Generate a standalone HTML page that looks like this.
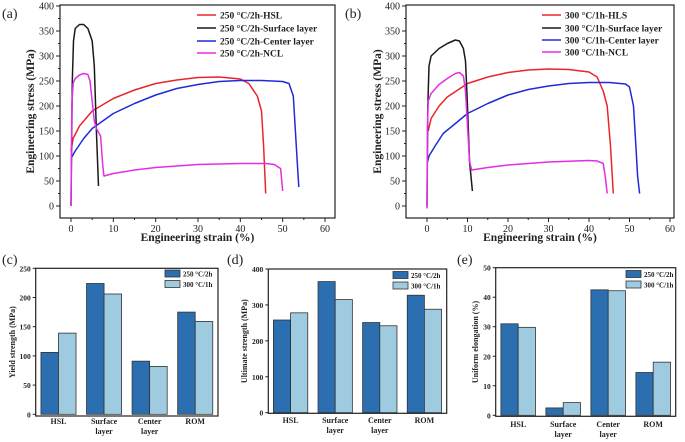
<!DOCTYPE html>
<html><head><meta charset="utf-8"><style>
html,body{margin:0;padding:0;background:#fff;overflow:hidden;}
svg{display:block;font-family:"Liberation Serif",serif;}
</style></head><body>
<svg id="fig" width="685" height="442" viewBox="0 0 685 442" xmlns="http://www.w3.org/2000/svg"></svg>
<script>
// ---- data ----
const curveNamesA = ["250 °C/2h-HSL","250 °C/2h-Surface layer","250 °C/2h-Center layer","250 °C/2h-NCL"];
const curveNamesB = ["300 °C/1h-HLS","300 °C/1h-Surface layer","300 °C/1h-Center layer","300 °C/1h-NCL"];
const curveColors = ["#e8262a","#1a1a1a","#1f2bd6","#e42ee4"];
const a_hsl = [[0,110],[0.5,135],[2,160],[5,190],[10,215],[15,232],[20,245],[25,252],[30,257],[35,258],[40,254],[42,245],[44,220],[45,190],[45.5,120],[46,25]];
const a_surf = [[0,0],[0.3,250],[0.6,330],[1,355],[2,363],[3,363],[4,355],[5,330],[5.5,280],[6,150],[6.5,40]];
const a_center = [[0,95],[1,110],[3,135],[5,155],[10,185],[15,205],[20,222],[25,235],[30,243],[35,249],[40,251],[45,251],[50,249],[51.5,245],[52.5,220],[53,150],[53.5,80],[53.8,38]];
const a_ncl = [[0,0],[0.2,200],[0.5,245],[1,255],[2,262],[3,265],[4,263],[4.5,250],[5,210],[5.5,170],[6,155],[7,140],[7.5,80],[7.8,60],[10,65],[15,72],[20,77],[30,83],[40,85],[46,85],[48,83],[49.5,75],[50,30]];
const b_hls = [[0.3,150],[1,175],[3,200],[5,218],[10,245],[15,258],[20,267],[25,272],[30,274],[35,273],[40,268],[42,258],[43.5,230],[44.5,200],[45.3,120],[46,25]];
const b_surf = [[0,0],[0.2,200],[0.5,280],[1,300],[3,315],[5,325],[7,332],[8,330],[9,315],[9.5,290],[10,200],[10.5,90],[11.2,30]];
const b_center = [[0,85],[0.5,100],[2,120],[4,145],[7,165],[10,185],[15,205],[20,222],[25,233],[30,240],[35,245],[40,247],[45,247],[49,244],[50,238],[51,200],[51.5,130],[52,60],[52.5,25]];
const b_ncl = [[0,-5],[0.1,150],[0.3,210],[1,225],[3,243],[5,255],[7,265],[8,267],[9,260],[9.5,230],[10,160],[10.5,90],[11,72],[15,77],[20,82],[30,88],[40,91],[42,90],[43.5,85],[44,60],[44.5,25]];
const strainTicks = [0,10,20,30,40,50,60];
const stressTicks = [0,50,100,150,200,250,300,350,400];
const categories = [["HSL"],["Surface","layer"],["Center","layer"],["ROM"]];
const barSeries = ["250 °C/2h","300 °C/1h"];
const yield250 = [106,224,91,175];
const yield300 = [139,206,82,159];
const uts250 = [258,365,251,327];
const uts300 = [278,315,242,288];
const elong250 = [31,2.5,42.5,14.5];
const elong300 = [29.8,4.3,42.2,18];
const yieldTicks = [0,50,100,150,200,250];
const utsTicks = [0,100,200,300,400];
const elongTicks = [0,10,20,30,40,50];

const NS="http://www.w3.org/2000/svg";
const svg=document.getElementById('fig');
function mk(tag,attrs,parent){const e=document.createElementNS(NS,tag);for(const k in attrs)e.setAttribute(k,attrs[k]);(parent||svg).appendChild(e);return e;}
function txt(s,x,y,size,anchor,parent,extra){const t=mk('text',Object.assign({x:x,y:y,'font-size':size,'font-weight':'bold','text-anchor':anchor||'middle',fill:'#222'},extra||{}),parent);t.textContent=s;return t;}

function linePanel(cfg){
  const g=mk('g',{});
  
  
  const sx=v=>cfg.x0+(v-0)*(cfg.x60-cfg.x0)/60;
  const sy=v=>cfg.y0+(v)*(cfg.y400-cfg.y0)/400;
  const frame=mk('rect',{x:cfg.L,y:cfg.T,width:cfg.R-cfg.L,height:cfg.B-cfg.T,fill:'none',stroke:'#222','stroke-width':1.2},g);
  
  
  strainTicks.forEach(v=>{const x=sx(v);mk('line',{x1:x,x2:x,y1:cfg.B,y2:cfg.B+4,stroke:'#222'},g);
    const t=txt(String(v),x,cfg.B+14,10,'middle',g,{'font-weight':'normal'});
    if(v<60){const xm=sx(v+5);mk('line',{x1:xm,x2:xm,y1:cfg.B,y2:cfg.B+2,stroke:'#222'},g);}});
  stressTicks.forEach(v=>{const y=sy(v);mk('line',{x1:cfg.L,x2:cfg.L-4,y1:y,y2:y,stroke:'#222'},g);
    const t=txt(String(v),cfg.L-6,y+3.5,10,'end',g,{'font-weight':'normal'});
    if(v<400){const ym=sy(v+25);mk('line',{x1:cfg.L,x2:cfg.L-2,y1:ym,y2:ym,stroke:'#222'},g);}});
  const xt=txt('Engineering strain (%)',(cfg.L+cfg.R)/2,241,11.5,'middle',g);
  
  const yc=(cfg.T+cfg.B)/2;
  const yt=txt('Engineering stress (MPa)',cfg.ytx,yc,11.5,'middle',g,{transform:'rotate(-90 '+cfg.ytx+' '+yc+')'});
  
  const pl=txt(cfg.label,cfg.lx,18,14,'start',g,{'font-weight':'normal'});
  
  cfg.series.forEach((s,i)=>{
    const p=mk('polyline',{points:s.map(d=>sx(d[0]).toFixed(1)+','+sy(d[1]).toFixed(1)).join(' '),fill:'none',stroke:curveColors[i],'stroke-width':1.5,'stroke-linejoin':'round'},g);
    
    
    const ly=cfg.legY[i];
    const ll=mk('line',{x1:cfg.legX,x2:cfg.legX+19,y1:ly,y2:ly,stroke:curveColors[i],'stroke-width':1.5},g);
    
    const lt=txt(cfg.names[i],cfg.legX+23,ly+3.5,9.5,'start',g);
    
  });
}
linePanel({name:'chart-a',label:'(a)',lx:2,L:60,R:335,T:5,B:218,x0:71,x60:325,y0:206,y400:6,ytx:34,legX:197,legY:[15,28,41,53],series:[a_hsl,a_surf,a_center,a_ncl],names:curveNamesA});
linePanel({name:'chart-b',label:'(b)',lx:345,L:406,R:674,T:5,B:218,x0:427,x60:670,y0:206,y400:6,ytx:381,legX:542,legY:[15,28,40,52],series:[b_hls,b_surf,b_center,b_ncl],names:curveNamesB});

function barPanel(cfg){
  const g=mk('g',{});
  
  
  const sy=v=>cfg.y0+v*(cfg.yTop-cfg.y0)/cfg.max;
  const slot=(cfg.R-cfg.L)/categories.length;
  const bw=slot*0.385;
  const cols=['#2b6fb1','#9fcbe0'];
  [cfg.s1,cfg.s2].forEach((vals,si)=>{
    vals.forEach((v,i)=>{
      const cx=cfg.L+slot*(i+0.5);
      const x=si===0?cx-bw:cx;
      const r=mk('rect',{x:x,y:sy(v),width:bw,height:cfg.y0-sy(v),fill:cols[si],stroke:'#333','stroke-width':0.8},g);
      
      
    });
  });
  const frame=mk('rect',{x:cfg.L,y:cfg.T,width:cfg.R-cfg.L,height:cfg.B-cfg.T,fill:'none',stroke:'#222','stroke-width':1.2},g);
  
  cfg.ticks.forEach(v=>{const y=sy(v);mk('line',{x1:cfg.L,x2:cfg.L-3,y1:y,y2:y,stroke:'#222'},g);
    const t=txt(String(v),cfg.L-5,y+3,7.5,'end',g);});
  categories.forEach((c,i)=>{const cx=cfg.L+slot*(i+0.5);
    c.forEach((s,j)=>{const t=txt(s,cx,cfg.catY+j*10,8,'middle',g);});});
  const yc=(cfg.T+cfg.B)/2;
  const yt=txt(cfg.ytitle,cfg.ytx,yc,8,'middle',g,{transform:'rotate(-90 '+cfg.ytx+' '+yc+')'});
  
  const pl=txt(cfg.label,cfg.lx,264,14,'start',g,{'font-weight':'normal'});
  
  barSeries.forEach((s,i)=>{
    const ly=cfg.legY+i*10.5;
    const lr=mk('rect',{x:cfg.legX,y:ly,width:15,height:7,fill:cols[i],stroke:'#333','stroke-width':0.8},g);
    
    const lt=txt(s,cfg.legX+18,ly+6.5,7,'start',g);
    
  });
}
barPanel({name:'chart-c',label:'(c)',lx:2,L:35.7,R:218,T:268.3,B:416,y0:414.3,yTop:268.3,max:250,ticks:yieldTicks,s1:yield250,s2:yield300,ytitle:'Yield strength (MPa)',ytx:15,legX:165,legY:270,catY:424});
barPanel({name:'chart-d',label:'(d)',lx:227,L:268.3,R:446.7,T:269,B:413.3,y0:412.7,yTop:269,max:400,ticks:utsTicks,s1:uts250,s2:uts300,ytitle:'Ultimate strength (MPa)',ytx:247,legX:393,legY:271.5,catY:423});
barPanel({name:'chart-e',label:'(e)',lx:457,L:495.7,R:675.7,T:267.7,B:416.3,y0:415.3,yTop:267.7,max:50,ticks:elongTicks,s1:elong250,s2:elong300,ytitle:'Uniform elongation (%)',ytx:478,legX:626,legY:270.5,catY:427});
</script>
</body></html>
